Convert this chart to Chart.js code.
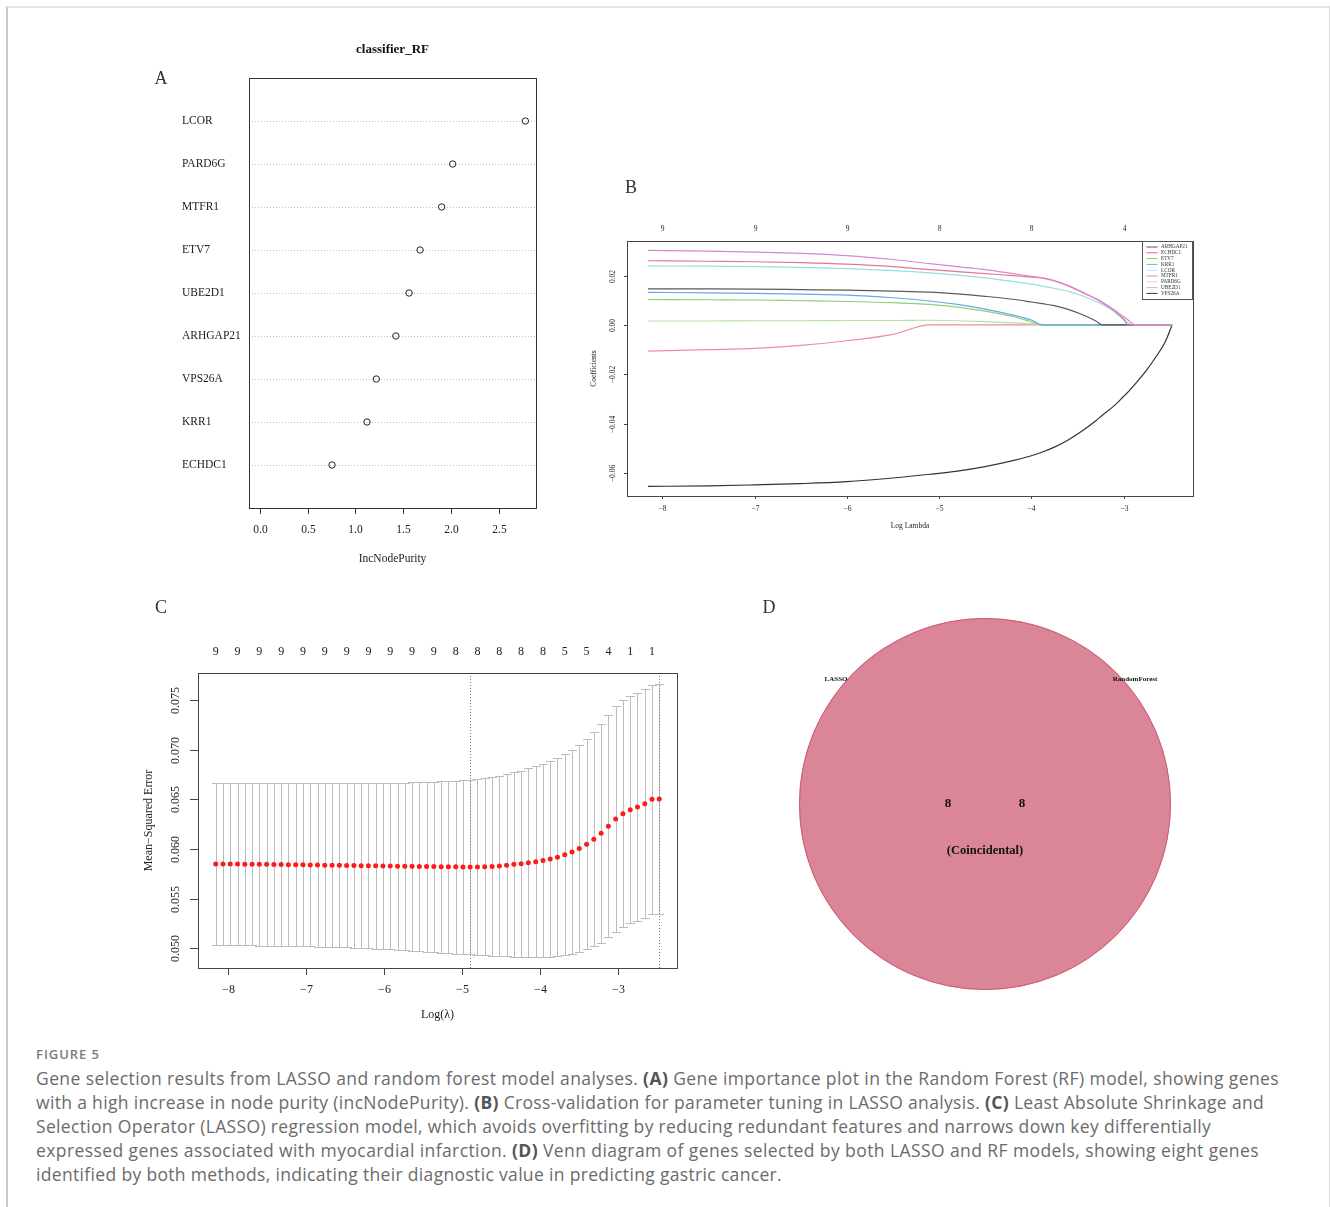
<!DOCTYPE html>
<html>
<head>
<meta charset="utf-8">
<script src="https://cdn.jsdelivr.net/npm/chart.js@4.4.1/dist/chart.umd.min.js"></script>
<style>
  html, body { margin: 0; padding: 0; background: #fff; }
  body { width: 1330px; height: 1207px; position: relative; overflow: hidden; }
  #frame { position: absolute; left: 6px; top: 6px; width: 1321px; height: 1230px;
           border-top: 2px solid #e4e4e4; border-left: 2px solid #c9c9c9; border-right: 2px solid #dddddd; }
  canvas { position: absolute; }
  .cap { position: absolute; left: 36px; white-space: nowrap; font-family: "Open Sans", sans-serif;
         font-size: 17.5px; line-height: 24px; color: #6b6b6b; }
  .cap b { color: #555; font-weight: 700; }
  #fig { position: absolute; left: 36px; top: 1045px; white-space: nowrap; font-family: "Open Sans", sans-serif;
         font-size: 13px; line-height: 18px; font-weight: 600; color: #7a7a7a; }
</style>
</head>
<body>
<div id="frame"></div>
<canvas id="cA" width="420" height="550" style="left:140px;top:30px"></canvas>
<canvas id="cB" width="620" height="365" style="left:580px;top:175px"></canvas>
<canvas id="cC" width="570" height="440" style="left:130px;top:590px"></canvas>
<canvas id="cD" width="450" height="420" style="left:750px;top:590px"></canvas>

<div id="fig" data-w="64">FIGURE 5</div>
<div class="cap" style="top:1066px" data-w="1243">Gene selection results from LASSO and random forest model analyses. <b>(A)</b> Gene importance plot in the Random Forest (RF) model, showing genes</div>
<div class="cap" style="top:1090px" data-w="1228">with a high increase in node purity (incNodePurity). <b>(B)</b> Cross-validation for parameter tuning in LASSO analysis. <b>(C)</b> Least Absolute Shrinkage and</div>
<div class="cap" style="top:1114px" data-w="1175">Selection Operator (LASSO) regression model, which avoids overfitting by reducing redundant features and narrows down key differentially</div>
<div class="cap" style="top:1138px" data-w="1223">expressed genes associated with myocardial infarction. <b>(D)</b> Venn diagram of genes selected by both LASSO and RF models, showing eight genes</div>
<div class="cap" style="top:1162px" data-w="746">identified by both methods, indicating their diagnostic value in predicting gastric cancer.</div>

<script>
// ---- A: random forest importance
const genes = ["LCOR", "PARD6G", "MTFR1", "ETV7", "UBE2D1", "ARHGAP21", "VPS26A", "KRR1", "ECHDC1"];
const purity = [2.774, 2.015, 1.900, 1.675, 1.560, 1.422, 1.218, 1.121, 0.756];
const purityTicks = [0, 0.5, 1.0, 1.5, 2.0, 2.5];

// ---- B: lasso coefficient paths
const pathLL = [-8.156, -7.5, -7.0, -6.5, -6.0, -5.5, -5.1, -4.8, -4.5, -4.2, -4.0, -3.88, -3.75,
                -3.6, -3.45, -3.3, -3.23, -3.1, -3.0, -2.95, -2.87, -2.75, -2.65, -2.55, -2.474];
const coefARHGAP21 = [0.0146, 0.0146, 0.0145, 0.0143, 0.0141, 0.0137, 0.0133, 0.0126, 0.0116, 0.0104, 0.0093, 0.0086, 0.0078,
                      0.0063, 0.0042, 0.0016, 0, 0, 0, 0, 0, 0, 0, 0, 0];
const coefECHDC1 = [0.0260, 0.0258, 0.0256, 0.0252, 0.0246, 0.0236, 0.0224, 0.0216, 0.0208, 0.0200, 0.0194, 0.0189, 0.0178,
                    0.0158, 0.0132, 0.0105, 0.0090, 0.0058, 0.0025, 0, 0, 0, 0, 0, 0];
const coefETV7 = [0.0103, 0.0102, 0.0101, 0.0098, 0.0095, 0.0090, 0.0083, 0.0072, 0.0056, 0.0034, 0.0013, 0, 0,
                  0, 0, 0, 0, 0, 0, 0, 0, 0, 0, 0, 0];
const coefKRR1 = [0.0132, 0.0130, 0.0128, 0.0125, 0.0121, 0.0110, 0.0097, 0.0083, 0.0064, 0.0040, 0.0020, 0, 0,
                  0, 0, 0, 0, 0, 0, 0, 0, 0, 0, 0, 0];
const coefLCOR = [0.0239, 0.0238, 0.0236, 0.0233, 0.0228, 0.0220, 0.0211, 0.0202, 0.0191, 0.0176, 0.0165, 0.0157, 0.0148,
                  0.0136, 0.0118, 0.0095, 0.0083, 0.0053, 0.0022, 0.0008, 0, 0, 0, 0, 0];
const coefMTFR1 = [0.0302, 0.0299, 0.0295, 0.0290, 0.0281, 0.0265, 0.0248, 0.0236, 0.0224, 0.0208, 0.0197, 0.0191, 0.0180,
                   0.0160, 0.0134, 0.0107, 0.0093, 0.0061, 0.0034, 0.0020, 0, 0, 0, 0, 0];
const coefPARD6G = [-0.0106, -0.0100, -0.0095, -0.0083, -0.0064, -0.0038, 0, 0, 0, 0, 0, 0, 0,
                    0, 0, 0, 0, 0, 0, 0, 0, 0, 0, 0, 0];
const coefUBE2D1 = [0.0016, 0.0016, 0.0017, 0.0017, 0.0018, 0.0018, 0.0019, 0.0017, 0.0013, 0.0008, 0.0005, 0.0002, 0,
                    0, 0, 0, 0, 0, 0, 0, 0, 0, 0, 0, 0];
const coefVPS26A = [-0.0654, -0.0652, -0.0648, -0.0643, -0.0635, -0.0620, -0.0605, -0.0592, -0.0574, -0.0550, -0.0530, -0.0515, -0.0495,
                    -0.0466, -0.0430, -0.0388, -0.0366, -0.0327, -0.0290, -0.0271, -0.0238, -0.0183, -0.0130, -0.0070, 0];
const pathTicksX = [-8, -7, -6, -5, -4, -3];
const pathTopLabels = [9, 9, 9, 8, 8, 4];
const pathTicksY = [0.02, 0.00, -0.02, -0.04, -0.06];

// ---- C: cross-validation curve
const logLambda = [-8.156, -8.063, -7.970, -7.877, -7.783, -7.690, -7.597, -7.504, -7.411, -7.318,
                   -7.225, -7.131, -7.038, -6.945, -6.852, -6.759, -6.666, -6.572, -6.479, -6.386,
                   -6.293, -6.200, -6.107, -6.014, -5.920, -5.827, -5.734, -5.641, -5.548, -5.455,
                   -5.362, -5.268, -5.175, -5.082, -4.989, -4.896, -4.803, -4.710, -4.616, -4.523,
                   -4.430, -4.337, -4.244, -4.151, -4.057, -3.964, -3.871, -3.778, -3.685, -3.592,
                   -3.499, -3.405, -3.312, -3.219, -3.126, -3.033, -2.940, -2.846, -2.753, -2.660,
                   -2.567, -2.474];
const cvm = [0.05850, 0.05850, 0.05849, 0.05849, 0.05848, 0.05847, 0.05847, 0.05846, 0.05845, 0.05844,
             0.05843, 0.05842, 0.05841, 0.05840, 0.05839, 0.05838, 0.05837, 0.05836, 0.05835, 0.05834,
             0.05833, 0.05832, 0.05831, 0.05830, 0.05829, 0.05828, 0.05827, 0.05826, 0.05825, 0.05824,
             0.05823, 0.05822, 0.05821, 0.05821, 0.05820, 0.05819, 0.05820, 0.05821, 0.05824, 0.05830,
             0.05837, 0.05846, 0.05853, 0.05861, 0.05873, 0.05885, 0.05900, 0.05918, 0.05942, 0.05971,
             0.06005, 0.06048, 0.06098, 0.06158, 0.06229, 0.06302, 0.06356, 0.06396, 0.06423, 0.06457,
             0.06501, 0.06504];
const cvup = [0.06670, 0.06670, 0.06670, 0.06670, 0.06669, 0.06669, 0.06669, 0.06668, 0.06668, 0.06668,
              0.06668, 0.06667, 0.06667, 0.06667, 0.06667, 0.06666, 0.06666, 0.06666, 0.06666, 0.06666,
              0.06666, 0.06666, 0.06667, 0.06667, 0.06668, 0.06669, 0.06670, 0.06672, 0.06674, 0.06676,
              0.06678, 0.06681, 0.06684, 0.06688, 0.06693, 0.06699, 0.06707, 0.06716, 0.06727, 0.06740,
              0.06755, 0.06772, 0.06791, 0.06812, 0.06835, 0.06860, 0.06888, 0.06919, 0.06955, 0.06996,
              0.07046, 0.07108, 0.07182, 0.07260, 0.07351, 0.07438, 0.07499, 0.07545, 0.07573, 0.07610,
              0.07656, 0.07663];
const cvlo = [0.05034, 0.05033, 0.05032, 0.05031, 0.05030, 0.05029, 0.05028, 0.05027, 0.05026, 0.05025,
              0.05024, 0.05022, 0.05021, 0.05019, 0.05018, 0.05016, 0.05014, 0.05012, 0.05010, 0.05007,
              0.05004, 0.05001, 0.04998, 0.04994, 0.04990, 0.04986, 0.04982, 0.04977, 0.04972, 0.04967,
              0.04962, 0.04957, 0.04952, 0.04947, 0.04943, 0.04938, 0.04934, 0.04930, 0.04926, 0.04922,
              0.04918, 0.04915, 0.04913, 0.04912, 0.04912, 0.04913, 0.04916, 0.04921, 0.04930, 0.04945,
              0.04966, 0.04997, 0.05022, 0.05055, 0.05110, 0.05166, 0.05211, 0.05251, 0.05274, 0.05301,
              0.05345, 0.05345];
const nzTop = [9, 9, 9, 9, 9, 9, 9, 9, 9, 9, 9, 8, 8, 8, 8, 8, 5, 5, 4, 1, 1];  // every 3rd lambda
const lambdaMinIdx = 35;
const lambda1seIdx = 61;
const cvTicksY = [0.050, 0.055, 0.060, 0.065, 0.070, 0.075];

// ---- D: venn
const vennSets = ["LASSO", "RandomForest"];
const vennCounts = [8, 8];
const vennNote = "(Coincidental)";

Chart.defaults.animation = false;
Chart.defaults.events = [];
Chart.defaults.plugins.legend.display = false;
Chart.defaults.plugins.tooltip.enabled = false;

const serif = '"Liberation Serif", "Times New Roman", serif';
const minus = (s) => s.replace("-", "\u2212");

function txt(ctx, s, x, y, size, opts = {}) {
  ctx.save();
  ctx.font = (opts.bold ? "bold " : "") + size + "px " + serif;
  ctx.fillStyle = opts.color || "#222";
  ctx.textAlign = opts.align || "center";
  ctx.textBaseline = "middle";
  ctx.translate(x, y);
  if (opts.rot) ctx.rotate(-Math.PI / 2);
  ctx.fillText(s, 0, 0);
  ctx.restore();
}
function seg(ctx, x1, y1, x2, y2) {
  ctx.beginPath(); ctx.moveTo(x1, y1); ctx.lineTo(x2, y2); ctx.stroke();
}
const px = (v) => Math.round(v) + 0.5;
const hidden = { display: false };

// ================= A =================
const oA = { x: 140, y: 30 };
new Chart(document.getElementById("cA"), {
  type: "scatter",
  data: {
    datasets: [{
      data: genes.map((g, i) => ({ x: purity[i], y: genes.length - i })),
      pointRadius: 3.2, pointBorderWidth: 1, pointBorderColor: "#222",
      pointBackgroundColor: "rgba(0,0,0,0)",
    }],
  },
  options: {
    responsive: false,
    layout: { padding: { left: 109, right: 24, top: 48, bottom: 72 } },
    scales: {
      x: { type: "linear", min: -0.111, max: 2.885, ...hidden },
      y: { type: "linear", min: 0, max: 10, ...hidden },
    },
  },
  plugins: [{
    id: "rfAxes",
    beforeDatasetsDraw(chart) {
      const { ctx, chartArea: a, scales: { y } } = chart;
      ctx.save();
      ctx.strokeStyle = "#c2c2c2"; ctx.lineWidth = 1; ctx.setLineDash([1, 2]);
      genes.forEach((g, i) => {
        const py = px(y.getPixelForValue(genes.length - i));
        seg(ctx, a.left, py, a.right, py);
      });
      ctx.restore();
    },
    afterDraw(chart) {
      const { ctx, chartArea: a, scales: { x, y } } = chart;
      ctx.save();
      ctx.strokeStyle = "#333"; ctx.lineWidth = 1;
      ctx.strokeRect(px(a.left), px(a.top), Math.round(a.width), Math.round(a.height));
      purityTicks.forEach((t) => {
        const tx = px(x.getPixelForValue(t));
        seg(ctx, tx, a.bottom, tx, a.bottom + 6);
        txt(ctx, t.toFixed(1), tx, 530 - oA.y, 11.5);
      });
      genes.forEach((g, i) => txt(ctx, g, 182 - oA.x, y.getPixelForValue(genes.length - i), 11.5, { align: "left" }));
      txt(ctx, "classifier_RF", (a.left + a.right) / 2, 50 - oA.y, 13, { bold: true, color: "#111" });
      txt(ctx, "IncNodePurity", (a.left + a.right) / 2, 559 - oA.y, 11.5);
      txt(ctx, "A", 161 - oA.x, 79 - oA.y, 18, { color: "#333" });
      ctx.restore();
    },
  }],
});

// ================= B =================
const oB = { x: 580, y: 175 };
const pathSeries = [
  { name: "MTFR1", values: coefMTFR1, color: "#d588d5" },
  { name: "ECHDC1", values: coefECHDC1, color: "#e7768c" },
  { name: "LCOR", values: coefLCOR, color: "#93dfe2" },
  { name: "ARHGAP21", values: coefARHGAP21, color: "#5a5a5a" },
  { name: "KRR1", values: coefKRR1, color: "#63a9e8" },
  { name: "ETV7", values: coefETV7, color: "#8ccf7c" },
  { name: "UBE2D1", values: coefUBE2D1, color: "#b7e0a9" },
  { name: "PARD6G", values: coefPARD6G, color: "#eb8d9f" },
  { name: "VPS26A", values: coefVPS26A, color: "#333333" },
];
const legendNames = ["ARHGAP21", "ECHDC1", "ETV7", "KRR1", "LCOR", "MTFR1", "PARD6G", "UBE2D1", "VPS26A"];
const legendColors = ["#555555", "#e26c82", "#7ed36c", "#6aaeeb", "#a6eef0", "#d48bd4", "#f2da70", "#bdbdbd", "#333333"];

new Chart(document.getElementById("cB"), {
  type: "scatter",
  data: {
    datasets: pathSeries.map((s) => ({
      label: s.name,
      data: pathLL.map((v, j) => ({ x: v, y: s.values[j] })),
      showLine: true, borderColor: s.color, borderWidth: 1.2,
      pointRadius: 0, cubicInterpolationMode: "monotone",
    })),
  },
  options: {
    responsive: false,
    layout: { padding: { left: 47, right: 7, top: 66, bottom: 44 } },
    scales: {
      x: { type: "linear", min: -8.383, max: -2.247, ...hidden },
      y: { type: "linear", min: -0.0693, max: 0.0340, ...hidden },
    },
  },
  plugins: [{
    id: "pathAxes",
    afterDraw(chart) {
      const { ctx, chartArea: a, scales: { x, y } } = chart;
      ctx.save();
      ctx.strokeStyle = "#444"; ctx.lineWidth = 1;
      ctx.strokeRect(px(a.left), px(a.top), Math.round(a.width), Math.round(a.height));
      pathTicksX.forEach((t, i) => {
        const tx = px(x.getPixelForValue(t));
        seg(ctx, tx, a.bottom, tx, a.bottom + 3);
        txt(ctx, minus(String(t)), tx, 509 - oB.y, 7.5);
        txt(ctx, String(pathTopLabels[i]), tx, 229 - oB.y, 7.5);
      });
      pathTicksY.forEach((t) => {
        const ty = px(y.getPixelForValue(t));
        seg(ctx, a.left - 3, ty, a.left, ty);
        txt(ctx, minus(t.toFixed(2)), 613 - oB.x, ty, 7.5, { rot: true });
      });
      txt(ctx, "Coefficients", 594 - oB.x, (a.top + a.bottom) / 2, 7.5, { rot: true });
      txt(ctx, "Log Lambda", 910 - oB.x, 526 - oB.y, 7.5);
      txt(ctx, "B", 631 - oB.x, 188 - oB.y, 18, { color: "#333" });

      // legend box, top right inside the plot
      const lx = 1142 - oB.x, ly = 241 - oB.y;
      ctx.fillStyle = "#fff";
      ctx.fillRect(lx, ly, 50, 58);
      ctx.strokeStyle = "#555";
      ctx.strokeRect(px(lx), px(ly), 50, 58);
      legendNames.forEach((n, i) => {
        const iy = ly + 6 + i * 5.8;
        ctx.strokeStyle = legendColors[i]; ctx.lineWidth = 1;
        seg(ctx, lx + 4.5, iy, lx + 15.5, iy);
        txt(ctx, n, lx + 19, iy, 5.2, { align: "left", color: "#333" });
      });
      ctx.restore();
    },
  }],
});

// ================= C =================
const oC = { x: 130, y: 590 };
new Chart(document.getElementById("cC"), {
  type: "scatter",
  data: {
    datasets: [{
      data: logLambda.map((v, i) => ({ x: v, y: cvm[i] })),
      pointRadius: 2.5, pointBorderWidth: 0, pointBackgroundColor: "#ff1a1a",
    }],
  },
  options: {
    responsive: false,
    layout: { padding: { left: 68, right: 23, top: 83, bottom: 62 } },
    scales: {
      x: { type: "linear", min: -8.383, max: -2.247, ...hidden },
      y: { type: "linear", min: 0.04802, max: 0.07773, ...hidden },
    },
  },
  plugins: [{
    id: "cvBars",
    beforeDatasetsDraw(chart) {
      const { ctx, chartArea: a, scales: { x, y } } = chart;
      ctx.save();
      ctx.strokeStyle = "#bcbcbc"; ctx.lineWidth = 1;
      logLambda.forEach((v, i) => {
        const bx = px(x.getPixelForValue(v));
        const yu = px(y.getPixelForValue(cvup[i]));
        const yl = px(y.getPixelForValue(cvlo[i]));
        seg(ctx, bx, yu, bx, yl);
        seg(ctx, bx - 4.5, yu, bx + 4.5, yu);
        seg(ctx, bx - 4.5, yl, bx + 4.5, yl);
      });
      ctx.strokeStyle = "#808080"; ctx.setLineDash([1, 2]);
      [lambdaMinIdx, lambda1seIdx].forEach((k) => {
        const vx = px(x.getPixelForValue(logLambda[k]));
        seg(ctx, vx, a.top, vx, a.bottom);
      });
      ctx.restore();
    },
    afterDraw(chart) {
      const { ctx, chartArea: a, scales: { x, y } } = chart;
      ctx.save();
      ctx.strokeStyle = "#444"; ctx.lineWidth = 1;
      ctx.strokeRect(px(a.left), px(a.top), Math.round(a.width), Math.round(a.height));
      pathTicksX.forEach((t) => {
        const tx = px(x.getPixelForValue(t));
        seg(ctx, tx, a.bottom, tx, a.bottom + 7);
        txt(ctx, minus(String(t)), tx, 990 - oC.y, 12);
      });
      cvTicksY.forEach((t) => {
        const ty = px(y.getPixelForValue(t));
        seg(ctx, a.left - 8, ty, a.left, ty);
        txt(ctx, t.toFixed(3), 176 - oC.x, ty, 12, { rot: true });
      });
      nzTop.forEach((n, i) => txt(ctx, String(n), x.getPixelForValue(logLambda[i * 3]), 652 - oC.y, 12));
      txt(ctx, "Mean\u2212Squared Error", 149 - oC.x, (a.top + a.bottom) / 2, 12, { rot: true });
      txt(ctx, "Log(\u03bb)", (a.left + a.right) / 2, 1015 - oC.y, 12);
      txt(ctx, "C", 161 - oC.x, 608 - oC.y, 18, { color: "#333" });
      ctx.restore();
    },
  }],
});

// ================= D =================
const oD = { x: 750, y: 590 };
new Chart(document.getElementById("cD"), {
  type: "pie",
  data: {
    labels: [vennSets.join(" \u2229 ")],
    datasets: [{ data: [vennCounts[0]], backgroundColor: "#da8598", borderWidth: 0, hoverOffset: 0 }],
  },
  options: {
    responsive: false,
    layout: { padding: { left: 49, right: 29, top: 28, bottom: 20 } },
  },
  plugins: [{
    id: "venn",
    afterDraw(chart) {
      const { ctx } = chart;
      const arc = chart.getDatasetMeta(0).data[0];
      ctx.save();
      ctx.strokeStyle = "#cf5c74"; ctx.lineWidth = 1;
      ctx.beginPath(); ctx.arc(arc.x, arc.y, arc.outerRadius - 0.5, 0, Math.PI * 2); ctx.stroke();
      txt(ctx, vennSets[0], 836 - oD.x, 679 - oD.y, 7, { bold: true, color: "#111" });
      txt(ctx, vennSets[1], 1135 - oD.x, 679 - oD.y, 7, { bold: true, color: "#111" });
      txt(ctx, String(vennCounts[0]), 948 - oD.x, 804 - oD.y, 13, { bold: true, color: "#111" });
      txt(ctx, String(vennCounts[1]), 1022 - oD.x, 804 - oD.y, 13, { bold: true, color: "#111" });
      txt(ctx, vennNote, arc.x, 851 - oD.y, 12.5, { bold: true, color: "#111" });
      txt(ctx, "D", 769 - oD.x, 608 - oD.y, 18, { color: "#333" });
      ctx.restore();
    },
  }],
});

// caption lines: stretch letter spacing so each line ends where the original does
document.querySelectorAll("[data-w]").forEach((el) => {
  const target = +el.dataset.w;
  const w = el.getBoundingClientRect().width;
  const n = el.textContent.length;
  el.style.letterSpacing = ((target - w) / n).toFixed(3) + "px";
});
</script>
</body>
</html>
